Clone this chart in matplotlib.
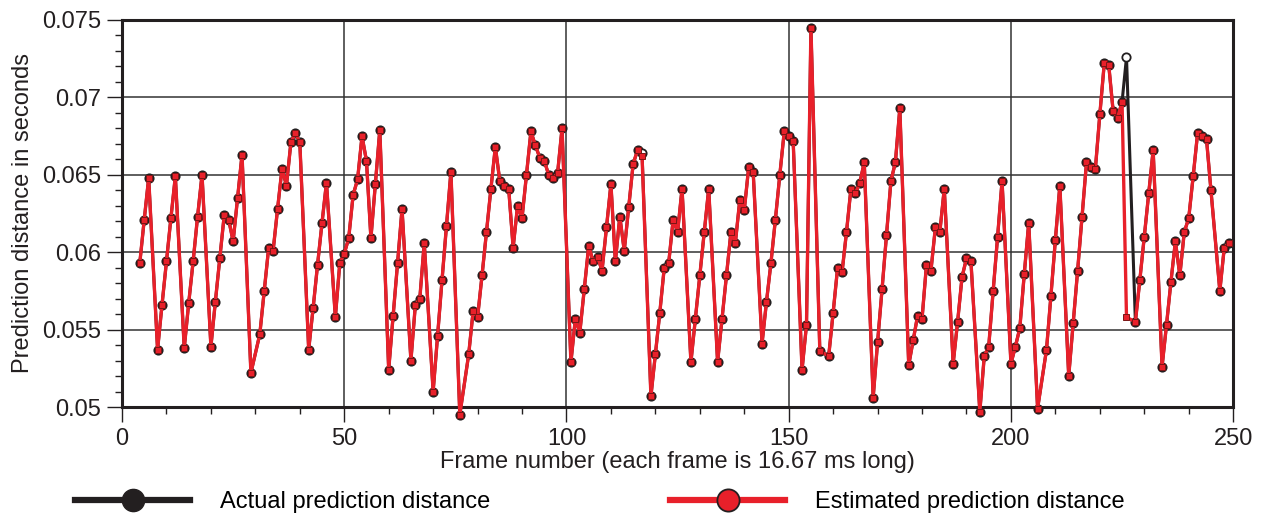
import matplotlib
matplotlib.use("Agg")
import matplotlib.pyplot as plt
from matplotlib.lines import Line2D
from matplotlib.ticker import MultipleLocator

plt.rcParams['font.family'] = ['Liberation Sans', 'DejaVu Sans']

# frame numbers (a few frames are skipped in the recording)
frames = [4, 5, 6, 8, 9, 10, 11, 12, 14, 15, 16, 17, 18, 20, 21, 22, 23, 24, 25, 26, 27,
          29, 31, 32, 33, 34, 35, 36, 37, 38, 39, 40, 42, 43, 44, 45, 46, 48, 49, 50,
          51, 52, 53, 54, 55, 56, 57, 58, 60, 61, 62, 63, 65, 66, 67, 68, 70, 71, 72,
          73, 74, 76, 78, 79, 80, 81, 82, 83, 84, 85, 86, 87, 88, 89, 90, 91, 92, 93,
          94, 95, 96, 97, 98, 99, 101, 102, 103, 104, 105, 106, 107, 108, 109, 110,
          111, 112, 113, 114, 115, 116, 117, 119, 120, 121, 122, 123, 124, 125, 126,
          128, 129, 130, 131, 132, 134, 135, 136, 137, 138, 139, 140, 141, 142, 144,
          145, 146, 147, 148, 149, 150, 151, 153, 154, 155, 157, 159, 160, 161, 162,
          163, 164, 165, 166, 167, 169, 170, 171, 172, 173, 174, 175, 177, 178, 179,
          180, 181, 182, 183, 184, 185, 187, 188, 189, 190, 191, 193, 194, 195, 196,
          197, 198, 200, 201, 202, 203, 204, 206, 208, 209, 210, 211, 213, 214, 215,
          216, 217, 218, 219, 220, 221, 222, 223, 224, 225, 226, 228, 229, 230, 231,
          232, 234, 235, 236, 237, 238, 239, 240, 241, 242, 243, 244, 245, 247, 248,
          249]

actual = [0.0593, 0.0621, 0.0648, 0.0537, 0.0566, 0.0594, 0.0622, 0.0649, 0.0538, 0.0567,
          0.0594, 0.0623, 0.0650, 0.0539, 0.0568, 0.0596, 0.0624, 0.0621, 0.0607, 0.0635,
          0.0663, 0.0522, 0.0547, 0.0575, 0.0603, 0.0601, 0.0628, 0.0654, 0.0643, 0.0671,
          0.0677, 0.0671, 0.0537, 0.0564, 0.0592, 0.0619, 0.0645, 0.0558, 0.0593, 0.0599,
          0.0609, 0.0637, 0.0647, 0.0675, 0.0659, 0.0609, 0.0644, 0.0679, 0.0524, 0.0559,
          0.0593, 0.0628, 0.0530, 0.0566, 0.0570, 0.0606, 0.0510, 0.0546, 0.0582, 0.0617,
          0.0652, 0.0495, 0.0534, 0.0562, 0.0558, 0.0585, 0.0613, 0.0641, 0.0668, 0.0646,
          0.0643, 0.0641, 0.0603, 0.0630, 0.0622, 0.0650, 0.0678, 0.0669, 0.0661, 0.0659,
          0.0650, 0.0648, 0.0651, 0.0680, 0.0529, 0.0557, 0.0548, 0.0576, 0.0604, 0.0594,
          0.0597, 0.0588, 0.0616, 0.0644, 0.0594, 0.0623, 0.0601, 0.0629, 0.0657, 0.0666,
          0.0664, 0.0507, 0.0534, 0.0561, 0.0590, 0.0593, 0.0621, 0.0613, 0.0641, 0.0529,
          0.0557, 0.0585, 0.0613, 0.0641, 0.0529, 0.0557, 0.0585, 0.0613, 0.0606, 0.0634,
          0.0627, 0.0655, 0.0652, 0.0541, 0.0568, 0.0593, 0.0621, 0.0650, 0.0678, 0.0675,
          0.0672, 0.0524, 0.0553, 0.0745, 0.0536, 0.0533, 0.0561, 0.0590, 0.0587, 0.0613,
          0.0641, 0.0638, 0.0645, 0.0658, 0.0506, 0.0542, 0.0576, 0.0611, 0.0646, 0.0658,
          0.0693, 0.0527, 0.0543, 0.0559, 0.0557, 0.0592, 0.0588, 0.0616, 0.0613, 0.0641,
          0.0528, 0.0555, 0.0584, 0.0596, 0.0594, 0.0497, 0.0533, 0.0539, 0.0575, 0.0610,
          0.0646, 0.0528, 0.0539, 0.0551, 0.0586, 0.0619, 0.0499, 0.0537, 0.0572, 0.0608,
          0.0643, 0.0520, 0.0554, 0.0588, 0.0623, 0.0658, 0.0655, 0.0654, 0.0689, 0.0722,
          0.0721, 0.0691, 0.0687, 0.0697, 0.0726, 0.0555, 0.0582, 0.0610, 0.0638, 0.0666,
          0.0526, 0.0553, 0.0581, 0.0607, 0.0585, 0.0613, 0.0622, 0.0649, 0.0677, 0.0675,
          0.0673, 0.0640, 0.0575, 0.0603, 0.0606]

estimated = [0.0593, 0.0621, 0.0648, 0.0537, 0.0566, 0.0594, 0.0622, 0.0649, 0.0538, 0.0567,
             0.0594, 0.0623, 0.0650, 0.0539, 0.0568, 0.0596, 0.0624, 0.0621, 0.0607, 0.0635,
             0.0663, 0.0522, 0.0547, 0.0575, 0.0603, 0.0601, 0.0628, 0.0654, 0.0643, 0.0671,
             0.0677, 0.0671, 0.0537, 0.0564, 0.0592, 0.0619, 0.0645, 0.0558, 0.0593, 0.0599,
             0.0609, 0.0637, 0.0647, 0.0675, 0.0659, 0.0609, 0.0644, 0.0679, 0.0524, 0.0559,
             0.0593, 0.0628, 0.0530, 0.0566, 0.0570, 0.0606, 0.0510, 0.0546, 0.0582, 0.0617,
             0.0652, 0.0495, 0.0534, 0.0562, 0.0558, 0.0585, 0.0613, 0.0641, 0.0668, 0.0646,
             0.0643, 0.0641, 0.0603, 0.0630, 0.0622, 0.0650, 0.0678, 0.0669, 0.0661, 0.0659,
             0.0650, 0.0648, 0.0651, 0.0680, 0.0529, 0.0557, 0.0548, 0.0576, 0.0604, 0.0594,
             0.0597, 0.0588, 0.0616, 0.0644, 0.0594, 0.0623, 0.0601, 0.0629, 0.0657, 0.0666,
             0.0662, 0.0507, 0.0534, 0.0561, 0.0590, 0.0593, 0.0621, 0.0613, 0.0641, 0.0529,
             0.0557, 0.0585, 0.0613, 0.0641, 0.0529, 0.0557, 0.0585, 0.0613, 0.0606, 0.0634,
             0.0627, 0.0655, 0.0652, 0.0541, 0.0568, 0.0593, 0.0621, 0.0650, 0.0678, 0.0675,
             0.0672, 0.0524, 0.0553, 0.0745, 0.0536, 0.0533, 0.0561, 0.0590, 0.0587, 0.0613,
             0.0641, 0.0638, 0.0645, 0.0658, 0.0506, 0.0542, 0.0576, 0.0611, 0.0646, 0.0658,
             0.0693, 0.0527, 0.0543, 0.0559, 0.0557, 0.0592, 0.0588, 0.0616, 0.0613, 0.0641,
             0.0528, 0.0555, 0.0584, 0.0596, 0.0594, 0.0497, 0.0533, 0.0539, 0.0575, 0.0610,
             0.0646, 0.0528, 0.0539, 0.0551, 0.0586, 0.0619, 0.0499, 0.0537, 0.0572, 0.0608,
             0.0643, 0.0520, 0.0554, 0.0588, 0.0623, 0.0658, 0.0655, 0.0654, 0.0689, 0.0722,
             0.0721, 0.0691, 0.0687, 0.0697, 0.0558, 0.0555, 0.0582, 0.0610, 0.0638, 0.0666,
             0.0526, 0.0553, 0.0581, 0.0607, 0.0585, 0.0613, 0.0622, 0.0649, 0.0677, 0.0675,
             0.0673, 0.0640, 0.0575, 0.0603, 0.0606]

BLACK = '#231f20'
RED = '#e8202a'
FS = 17

fig = plt.figure(figsize=(12.67, 5.15), dpi=100)
ax = fig.add_axes([0.0963, 0.2097, 0.8770, 0.7515])

# actual underneath, estimate drawn on top
ax.plot(frames, actual, color=BLACK, lw=2.2, marker='o', ms=6,
        mfc='white', mec=BLACK, mew=1.3, clip_on=False, zorder=3)
ax.plot(frames, estimated, color=RED, lw=2.4, marker='s', ms=4.6,
        mfc=RED, mec='#7a1515', mew=0.7, clip_on=False, zorder=4)

ax.set_xlim(0, 250)
ax.set_ylim(0.05, 0.075)
ax.xaxis.set_major_locator(MultipleLocator(50))
ax.xaxis.set_minor_locator(MultipleLocator(10))
ax.yaxis.set_major_locator(MultipleLocator(0.005))
ax.yaxis.set_minor_locator(MultipleLocator(0.001))
ax.yaxis.set_major_formatter(plt.FuncFormatter(lambda v, p: ('%.3f' % v).rstrip('0')))

ax.grid(True, which='major', color='#333333', lw=1.1)
ax.set_axisbelow(True)
for s in ax.spines.values():
    s.set_linewidth(2.2)
    s.set_color(BLACK)

ax.tick_params(axis='both', which='major', direction='out', length=11, width=1,
               labelsize=FS, colors=BLACK, pad=4)
ax.tick_params(axis='both', which='minor', direction='out', length=5, width=1, colors=BLACK)

ax.set_xlabel('Frame number (each frame is 16.67 ms long)', fontsize=FS, labelpad=1, color=BLACK)
ax.set_ylabel('Prediction distance in seconds', fontsize=FS, labelpad=6, color=BLACK)

handles = [
    Line2D([], [], color=BLACK, lw=4.5, marker='o', ms=16, mfc=BLACK, mec=BLACK),
    Line2D([], [], color=RED, lw=4.5, marker='o', ms=16, mfc=RED, mec=BLACK, mew=1.3),
]
fig.legend(handles, ['Actual prediction distance', 'Estimated prediction distance'],
           loc='lower left', bbox_to_anchor=(0.059, 0.004), ncol=2, frameon=False,
           fontsize=FS, handlelength=4.9, handletextpad=1.25, columnspacing=7.6,
           borderpad=0, borderaxespad=0)

fig.savefig('out.png', dpi=100)
